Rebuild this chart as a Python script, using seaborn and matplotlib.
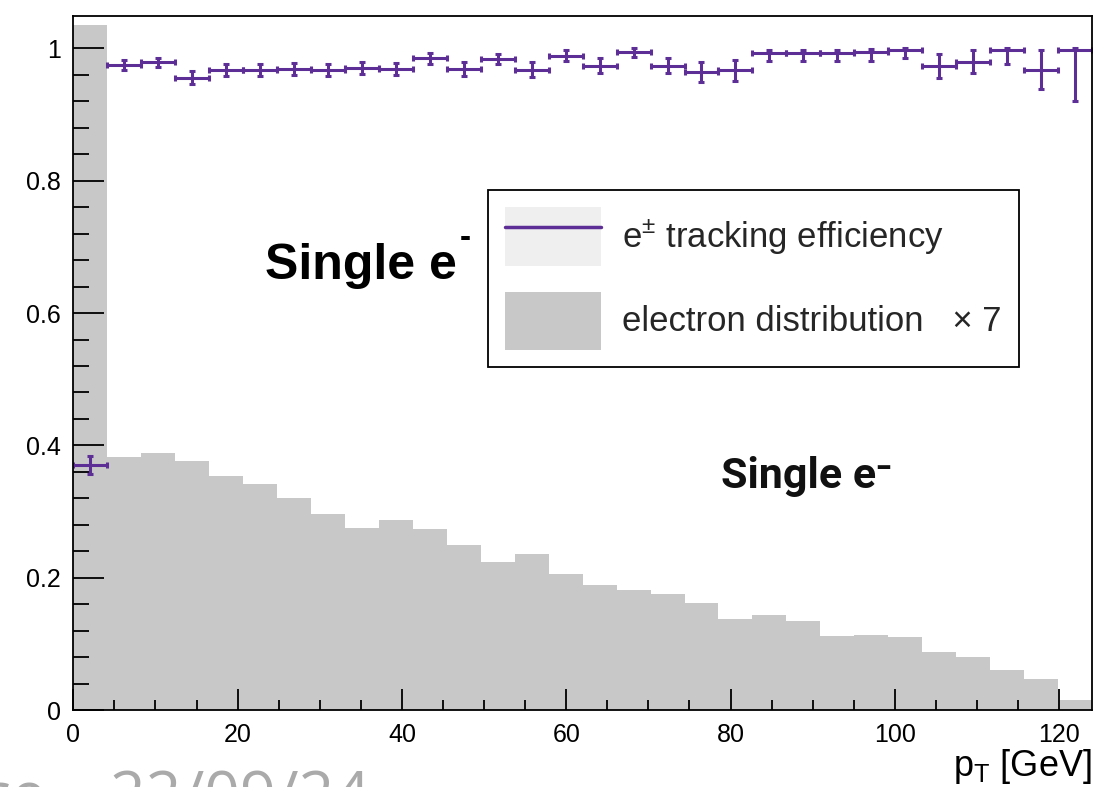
import numpy as np
import pandas as pd
import matplotlib
matplotlib.use("Agg")
import matplotlib.pyplot as plt
import seaborn as sns
from matplotlib.patches import Patch
from matplotlib.lines import Line2D
from matplotlib.ticker import MultipleLocator, FixedLocator, FuncFormatter

# ---------------- data ----------------
pt_min, pt_max, n_bins = 0.0, 124.0, 30

# electron pT distribution (x7), one value per bin
dist = [1.035, 0.382, 0.388, 0.376, 0.354, 0.341, 0.320, 0.296, 0.275, 0.287,
        0.273, 0.249, 0.224, 0.236, 0.206, 0.189, 0.181, 0.175, 0.161, 0.137,
        0.144, 0.135, 0.112, 0.114, 0.111, 0.088, 0.080, 0.060, 0.047, 0.015]

# tracking efficiency per bin with asymmetric errors
eff = [0.370, 0.975, 0.979, 0.956, 0.967, 0.967, 0.969, 0.967, 0.971, 0.969,
       0.985, 0.969, 0.984, 0.968, 0.989, 0.974, 0.995, 0.974, 0.964, 0.967,
       0.993, 0.993, 0.993, 0.994, 0.998, 0.974, 0.980, 0.997, 0.968, 0.997]
eff_lo = [0.014, 0.008, 0.007, 0.010, 0.009, 0.009, 0.009, 0.009, 0.009, 0.009,
          0.008, 0.010, 0.008, 0.011, 0.008, 0.011, 0.008, 0.011, 0.015, 0.016,
          0.012, 0.012, 0.012, 0.013, 0.012, 0.018, 0.017, 0.021, 0.029, 0.077]
eff_hi = [0.014, 0.008, 0.007, 0.010, 0.009, 0.009, 0.009, 0.009, 0.009, 0.009,
          0.008, 0.010, 0.008, 0.011, 0.008, 0.011, 0.005, 0.011, 0.015, 0.016,
          0.005, 0.005, 0.005, 0.005, 0.002, 0.018, 0.017, 0.003, 0.029, 0.003]

x_ticks = [0, 20, 40, 60, 80, 100, 120]
y_ticks = [0, 0.2, 0.4, 0.6, 0.8, 1.0]
legend_labels = [r"e$^{\pm}$ tracking efficiency", "electron distribution   \u00d7 7"]
x_label = r"p$_{\mathrm{T}}$ [GeV]"
watermark = "ce \u2013 22/09/24"

# ---------------- style ----------------
sns.set_theme(style="ticks")
plt.rcParams["font.family"] = ["Liberation Sans", "DejaVu Sans"]
plt.rcParams["mathtext.fontset"] = "custom"
plt.rcParams["mathtext.rm"] = "Liberation Sans"
plt.rcParams["mathtext.it"] = "Liberation Sans:italic"
plt.rcParams["mathtext.bf"] = "Liberation Sans:bold"

purple = "#5d2e96"
hist_col = "#c8c8c8"

W, H = 1095, 787
fig = plt.figure(figsize=(W / 100, H / 100), dpi=100)
ax = fig.add_axes([73.3 / W, 1 - 710 / H, (1092 - 73.3) / W, (710 - 16) / H])

edges = np.linspace(pt_min, pt_max, n_bins + 1)
centers = 0.5 * (edges[:-1] + edges[1:])
half = 0.5 * (edges[1] - edges[0])

df = pd.DataFrame({"pt": centers, "dist": dist, "eff": eff})

sns.histplot(data=df, x="pt", weights="dist", bins=n_bins, binrange=(pt_min, pt_max),
             element="bars", color=hist_col, edgecolor="none", linewidth=0,
             alpha=1.0, ax=ax)

ax.errorbar(df["pt"], df["eff"], xerr=half, yerr=[eff_lo, eff_hi], fmt="none",
            ecolor=purple, elinewidth=2.2, capsize=2.5, capthick=2.2, zorder=5)

ax.set_axisbelow(False)
ax.set_xlim(pt_min, pt_max)
ax.set_ylim(0, 1.049)
ax.set_ylabel("")
ax.set_xticks(x_ticks)
ax.set_yticks(y_ticks)
ax.xaxis.set_minor_locator(MultipleLocator(5))
ax.yaxis.set_minor_locator(FixedLocator(np.arange(0, 1.001, 0.04)))
ax.yaxis.set_major_formatter(FuncFormatter(lambda v, p: f"{v:g}"))

for s in ax.spines.values():
    s.set_visible(True)
    s.set_linewidth(1.3)
    s.set_color("black")
    s.set_zorder(6)

ax.tick_params(axis="both", which="both", direction="in", width=1.3, color="black",
               top=False, right=False, labelsize=18, labelcolor="black")
ax.tick_params(axis="y", which="major", length=22, pad=9)
ax.tick_params(axis="y", which="minor", length=11.5)
ax.tick_params(axis="x", which="major", length=15, pad=9)
ax.tick_params(axis="x", which="minor", length=7.5)

ax.set_xlabel(x_label, loc="right", fontsize=26, labelpad=0, color="black")

# annotations
ax.text(23.3, 0.652, "Single e", fontsize=36, fontweight="bold", color="black",
        family="Liberation Sans", va="baseline", ha="left")
ax.text(47.0, 0.700, "-", fontsize=24, fontweight="bold", color="black",
        family="Liberation Sans", va="baseline", ha="left")
ax.text(78.9, 0.335, "Single e\u207b", fontsize=31, fontweight="bold", color="#111111",
        family=["Roboto", "DejaVu Sans"], va="baseline", ha="left")

# legend
h1 = (Patch(facecolor="#efefef", edgecolor="none"), Line2D([0], [0], color=purple, lw=2.5))
h2 = Patch(facecolor=hist_col, edgecolor="none")
leg = ax.legend([h1, h2], legend_labels, loc="upper left",
                bbox_to_anchor=(488 / W, 1 - 190 / H), bbox_transform=fig.transFigure,
                borderaxespad=0, fancybox=False, framealpha=1, edgecolor="black",
                fontsize=25, handlelength=2.75, handleheight=2.2, handletextpad=0.62,
                labelspacing=0.75, borderpad=0.5)
leg.get_frame().set_linewidth(1.3)
leg.set_zorder(7)

fig.text(370 / W, -0.038, watermark, ha="right", va="baseline", fontsize=45,
         color="#aaaaaa", family=["Open Sans", "DejaVu Sans"])

fig.savefig("out.png", dpi=100)
